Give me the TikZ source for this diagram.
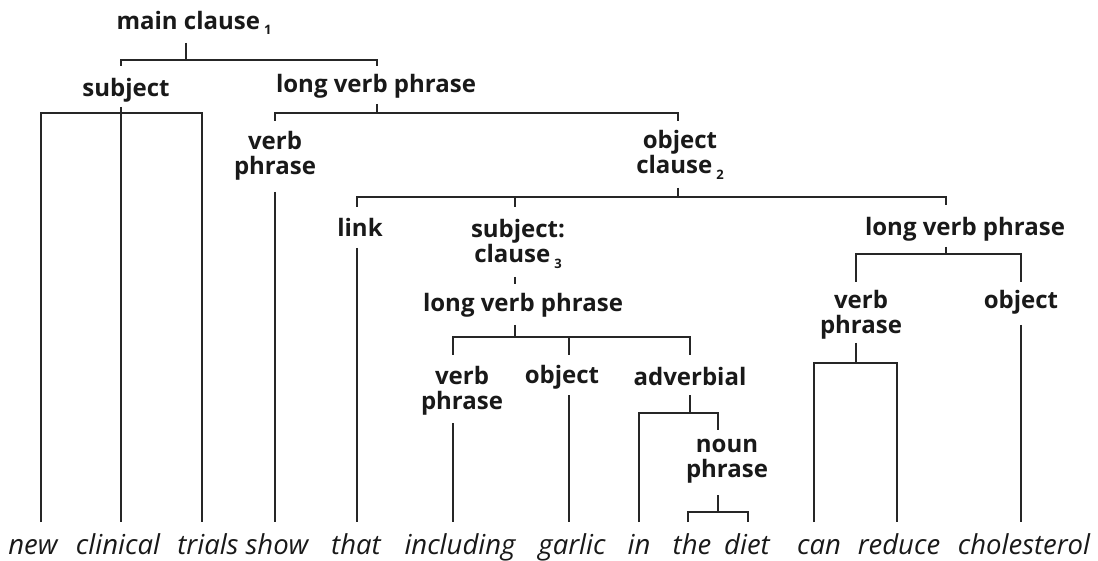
\documentclass[tikz,border=0pt]{standalone}
\usepackage{fontspec}
\setmainfont{Open Sans}
\newcommand\lsub[1]{\,\raisebox{-0.4ex}{\fontsize{13}{13}\selectfont #1}}
\tikzset{
  lab/.style={font=\bfseries\fontsize{24}{25}\selectfont, align=center, inner sep=0pt, text=black!90},
  word/.style={font=\itshape\fontsize{27.5}{30}\selectfont, anchor=base, inner sep=0pt, text=black!90},
  br/.style={line width=1.5pt, draw=black!85},
}
\begin{document}
\begin{tikzpicture}[x=1pt,y=-1pt]
\useasboundingbox[fill=white] (0,0) rectangle (1098,561);

% ---------- labels ----------
\node[lab] (mc)   at (194,23)  {main clause\lsub{1}};
\node[lab] (subj) at (126,90)  {subject};
\node[lab] (lvp1) at (376,86)  {long verb phrase};
\node[lab] (vp1)  at (275,156) {verb\\phrase};
\node[lab] (oc)   at (680,155) {object\\clause\lsub{2}};
\node[lab] (link) at (360,227) {link};
\node[lab] (sc)   at (518,244) {subject:\\clause\lsub{3}};
\node[lab] (lvp2) at (523,305) {long verb phrase};
\node[lab] (vp2)  at (462,391) {verb\\phrase};
\node[lab] (obj2) at (562,377) {object};
\node[lab] (adv)  at (690,376) {adverbial};
\node[lab] (np)   at (727,461) {noun\\phrase};
\node[lab] (lvp3) at (965,229) {long verb phrase};
\node[lab] (vp3)  at (861,315) {verb\\phrase};
\node[lab] (obj3) at (1021,302) {object};

% ---------- words ----------
\node[word] (w1)  at (33,554)   {new};
\node[word] (w2)  at (118,554)  {clinical};
\node[word] (w3)  at (208,554)  {trials};
\node[word] (w4)  at (277,554)  {show};
\node[word] (w5)  at (356,554)  {that};
\node[word] (w6)  at (460,554)  {including};
\node[word] (w7)  at (572,554)  {garlic};
\node[word] (w8)  at (639,554)  {in};
\node[word] (w9)  at (692,554)  {the};
\node[word] (w10) at (747,554)  {diet};
\node[word] (w11) at (819,554)  {can};
\node[word] (w12) at (899,554)  {reduce};
\node[word] (w13) at (1024,554) {cholesterol};

% word tops (ends of the connectors)
\coordinate (t1)  at (41,522);
\coordinate (t2)  at (121,522);
\coordinate (t3)  at (202,522);
\coordinate (t4)  at (275,522);
\coordinate (t5)  at (357,522);
\coordinate (t6)  at (453,522);
\coordinate (t7)  at (569,522);
\coordinate (t8)  at (639,522);
\coordinate (t9)  at (688,522);
\coordinate (t10) at (748,522);
\coordinate (t11) at (814,522);
\coordinate (t12) at (897,522);
\coordinate (t13) at (1021,522);

% ---------- connector points ----------
\coordinate (mcT)   at (186,43);   \coordinate (mcB)   at (186,60);
\coordinate (subjT) at (121,66);   \coordinate (lvp1T) at (377,66);
\coordinate (subjB) at (121,107);  \coordinate (subjBar) at (121,113);
\coordinate (lvp1B) at (377,104);  \coordinate (lvp1Bar) at (377,113);
\coordinate (vp1T)  at (275,121);  \coordinate (ocT)   at (678,121);
\coordinate (vp1B)  at (275,192);
\coordinate (ocB)   at (678,188);  \coordinate (ocBar) at (678,197);
\coordinate (linkT) at (357,207);  \coordinate (scT)   at (515,207);
\coordinate (lvp3T) at (946,205);
\coordinate (linkB) at (357,248);
\coordinate (scB)   at (515,277);  \coordinate (lvp2T) at (515,284);
\coordinate (lvp2B) at (515,325);  \coordinate (lvp2Bar) at (515,337);
\coordinate (vp2T)  at (453,355);  \coordinate (obj2T) at (569,355);
\coordinate (advT)  at (690,355);
\coordinate (vp2B)  at (453,423);  \coordinate (obj2B) at (569,395);
\coordinate (advB)  at (690,395);  \coordinate (advBar) at (690,413);
\coordinate (npT)   at (718,430);
\coordinate (npB)   at (718,495);  \coordinate (npBar) at (718,512);
\coordinate (lvp3B) at (946,247);  \coordinate (lvp3Bar) at (946,254);
\coordinate (vp3T)  at (856,282);  \coordinate (obj3T) at (1021,282);
\coordinate (vp3B)  at (856,343);  \coordinate (vp3Bar) at (856,363);
\coordinate (obj3B) at (1021,325);

% ---------- connectors ----------
% main clause
\draw[br] (mcT) -- (mcB);
\draw[br] (subjT) -- (subjT |- mcB) -- (lvp1T |- mcB) -- (lvp1T);
% subject
\draw[br] (subjB) -- (t2);
\draw[br] (t1) -- (t1 |- subjBar) -- (t3 |- subjBar) -- (t3);
% long verb phrase 1
\draw[br] (lvp1B) -- (lvp1Bar);
\draw[br] (vp1T) -- (vp1T |- lvp1Bar) -- (ocT |- lvp1Bar) -- (ocT);
% verb phrase 1
\draw[br] (vp1B) -- (t4);
% object clause
\draw[br] (ocB) -- (ocBar);
\draw[br] (linkT) -- (linkT |- ocBar) -- (lvp3T |- ocBar) -- (lvp3T);
\draw[br] (scT) -- (scT |- ocBar);
% link
\draw[br] (linkB) -- (t5);
% subject: clause 3
\draw[br] (scB) -- (lvp2T);
% long verb phrase 2
\draw[br] (lvp2B) -- (lvp2Bar);
\draw[br] (vp2T) -- (vp2T |- lvp2Bar) -- (advT |- lvp2Bar) -- (advT);
\draw[br] (obj2T) -- (obj2T |- lvp2Bar);
% verb phrase 2, object 2
\draw[br] (vp2B) -- (t6);
\draw[br] (obj2B) -- (t7);
% adverbial
\draw[br] (advB) -- (advBar);
\draw[br] (t8) -- (t8 |- advBar) -- (npT |- advBar) -- (npT);
% noun phrase
\draw[br] (npB) -- (npBar);
\draw[br] (t9) -- (t9 |- npBar) -- (t10 |- npBar) -- (t10);
% long verb phrase 3
\draw[br] (lvp3B) -- (lvp3Bar);
\draw[br] (vp3T) -- (vp3T |- lvp3Bar) -- (obj3T |- lvp3Bar) -- (obj3T);
% verb phrase 3
\draw[br] (vp3B) -- (vp3Bar);
\draw[br] (t11) -- (t11 |- vp3Bar) -- (t12 |- vp3Bar) -- (t12);
% object 3
\draw[br] (obj3B) -- (t13);
\end{tikzpicture}
\end{document}
